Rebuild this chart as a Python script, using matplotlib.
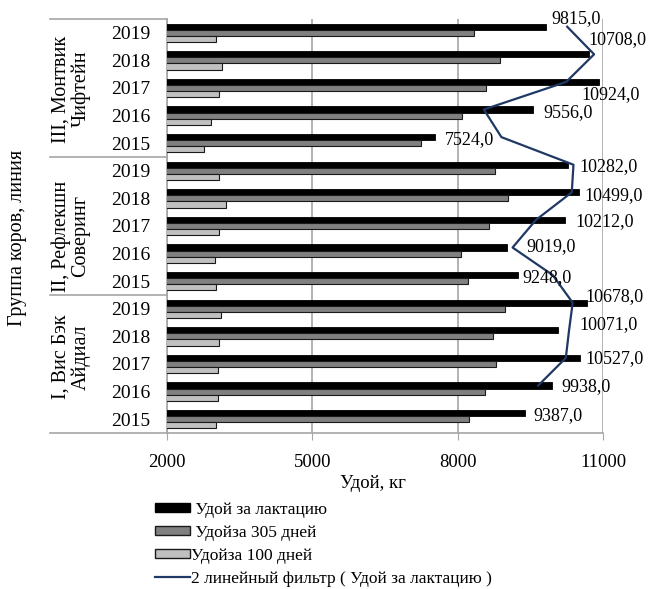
import numpy as np
import pandas as pd
import matplotlib
matplotlib.use('Agg')
import matplotlib.pyplot as plt
from matplotlib.patches import Patch
from matplotlib.lines import Line2D

plt.rcParams['font.family'] = ['Liberation Serif', 'DejaVu Serif']

# категории снизу вверх: группа I, II, III, годы 2015..2019
groups = ['I, Вис Бэк\nАйдиал', 'II, Рефлекшн\nСоверинг', 'III, Монтвик\nЧифтейн']
years = ['2015', '2016', '2017', '2018', '2019']

lact = [9387, 9938, 10527, 10071, 10678,
        9248, 9019, 10212, 10499, 10282,
        7524, 9556, 10924, 10708, 9815]
d305 = [8241, 8558, 8786, 8737, 8978,
        8207, 8063, 8654, 9033, 8778,
        7237, 8090, 8585, 8874, 8338]
d100 = [3011, 3060, 3060, 3080, 3108,
        3011, 2991, 3080, 3218, 3080,
        2764, 2902, 3080, 3135, 3011]

# сдвиг подписей значений, пиксели
lab_dx = [9, 10, 5, 21, -2, 4, 19, 11, 6, 11, 10, 10, -18, 0, 6]
lab_dy = [-2, -1, -1, 6, 6, -2, 1, -2, -3, -2, -2, -3, -13, 15, 8]

W, H = 649, 589
fig = plt.figure(figsize=(W / 100, H / 100), dpi=100)
ax = fig.add_axes([167 / W, 1 - 433 / H, 436 / W, 414 / H])

y = np.arange(len(lact))
h = 0.22
ax.barh(y + h, lact, height=h, color='black', edgecolor='black', linewidth=0.6, zorder=3)
ax.barh(y, d305, height=h, color='#808080', edgecolor='#1a1a1a', linewidth=0.8, zorder=3)
ax.barh(y - h, d100, height=h, color='#c0c0c0', edgecolor='#1a1a1a', linewidth=0.8, zorder=3)

# линия тренда: скользящее среднее за 2 периода
ma = pd.Series(lact, dtype=float).rolling(2).mean()
ax.plot(ma[1:].values, y[1:] + h, color='#1f3864', lw=1.6, zorder=4)

for i, v in enumerate(lact):
    ax.annotate(f'{v:.1f}'.replace('.', ','), xy=(v, y[i] + h),
                xytext=(lab_dx[i], lab_dy[i]), textcoords='offset pixels',
                ha='left', va='center', fontsize=13, zorder=5)

ax.set_xlim(2000, 11000)
ax.set_ylim(-0.5, len(lact) - 0.5)
ax.set_xticks([2000, 5000, 8000, 11000])
ax.tick_params(axis='x', labelsize=13.5, length=5, color='#a6a6a6', pad=10)
ax.set_yticks(y)
ax.set_yticklabels(years * 3, fontsize=14)
ax.tick_params(axis='y', length=0, pad=12)
ax.grid(axis='x', color='#a6a6a6', lw=1.2, zorder=0)
for s in ['top', 'right']:
    ax.spines[s].set_visible(False)
for s in ['left', 'bottom']:
    ax.spines[s].set_color('#a6a6a6')
    ax.spines[s].set_linewidth(1.2)

# разделители групп и подписи групп
tr = ax.get_yaxis_transform()
x0 = (50 - 167) / 436
for b in [-0.5, 4.5, 9.5, 14.5]:
    ax.plot([x0, 0], [b, b], transform=tr, color='#a6a6a6', lw=1.2, clip_on=False)
grp_y = [357, 236, 89]
for k, g in enumerate(groups):
    fig.text(71 / W, 1 - grp_y[k] / H, g, rotation=90,
             ha='center', va='center', multialignment='center', fontsize=14.5,
             linespacing=1.05)

fig.text(18 / W, 1 - 238 / H, 'Группа коров, линия', rotation=90,
         ha='center', va='center', fontsize=14.5)
fig.text(373 / W, 1 - 483 / H, 'Удой, кг', ha='center', va='center', fontsize=13.5)

handles = [Patch(facecolor='black', edgecolor='black'),
           Patch(facecolor='#808080', edgecolor='#1a1a1a'),
           Patch(facecolor='#c0c0c0', edgecolor='#1a1a1a'),
           Line2D([], [], color='#1f3864', lw=1.6)]
labels = [' Удой за лактацию', ' Удойза 305 дней', 'Удойза 100 дней',
          '2 линейный фильтр ( Удой за лактацию )']
fig.legend(handles, labels, loc='upper left', bbox_to_anchor=(155 / W, 1 - 502 / H),
           frameon=False, fontsize=12.5, handlelength=2.0, handleheight=0.45,
           handletextpad=0.05, labelspacing=0.4, borderaxespad=0, borderpad=0)

fig.savefig('out.png', dpi=100)
